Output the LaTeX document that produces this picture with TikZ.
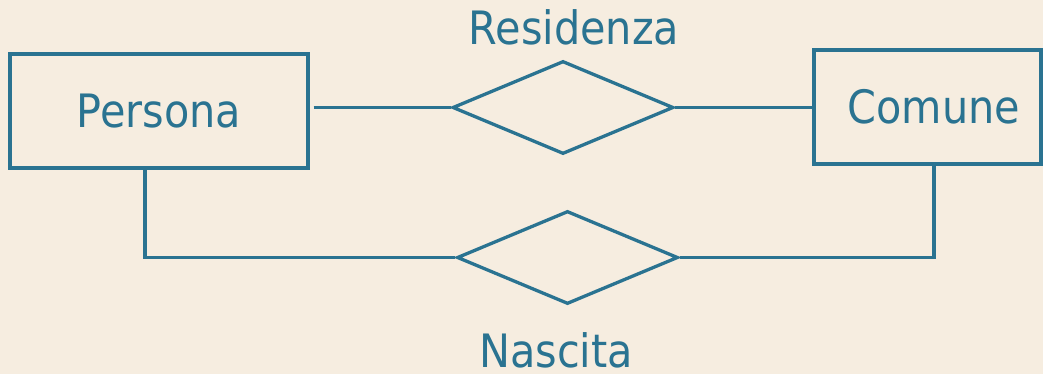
\documentclass[tikz,border=0pt]{standalone}
\usepackage{fontspec}
\setmainfont{DejaVu Sans Condensed}
\usetikzlibrary{shapes.geometric}
\definecolor{bg}{HTML}{F6EDE0}
\definecolor{ink}{HTML}{2A7391}
\tikzset{
  ent/.style={draw=ink, line width=3.3pt, rectangle, minimum height=114pt, inner sep=0pt, text=ink, font=\fontsize{46}{50}\selectfont},
  rel/.style={draw=ink, line width=3.3pt, diamond, minimum width=221pt, minimum height=93pt, inner sep=0pt},
  lbl/.style={text=ink, font=\fontsize{46}{50}\selectfont, anchor=base, inner sep=0pt},
  conn/.style={draw=ink, line width=3.3pt}
}
\begin{document}
\begin{tikzpicture}[x=1pt,y=-1pt]
\fill[bg] (0,0) rectangle (1043,374);
\useasboundingbox (0,0) rectangle (1043,374);
\node[ent, minimum width=298pt] (persona) at (159,111) {Persona};
\node[ent, minimum width=227pt] (comune) at (927.5,107) {\hspace*{13pt}Comune};
\node[rel] (residenza) at (563,107.5) {};
\node[rel] (nascita) at (567.5,257.5) {};
\node[lbl] (tres) at (574,45) {Residenza};
\node[lbl] (tnas) at (556,367) {Nascita};
\draw[conn, shorten <=4pt] (persona.east |- residenza.west) -- (residenza.west);
\draw[conn] (residenza.east) -- (residenza.east -| comune.west);
\draw[conn] ([xshift=-14pt]persona.south) |- (nascita.west);
\draw[conn] ([xshift=6.5pt]comune.south) |- (nascita.east);
\end{tikzpicture}
\end{document}
